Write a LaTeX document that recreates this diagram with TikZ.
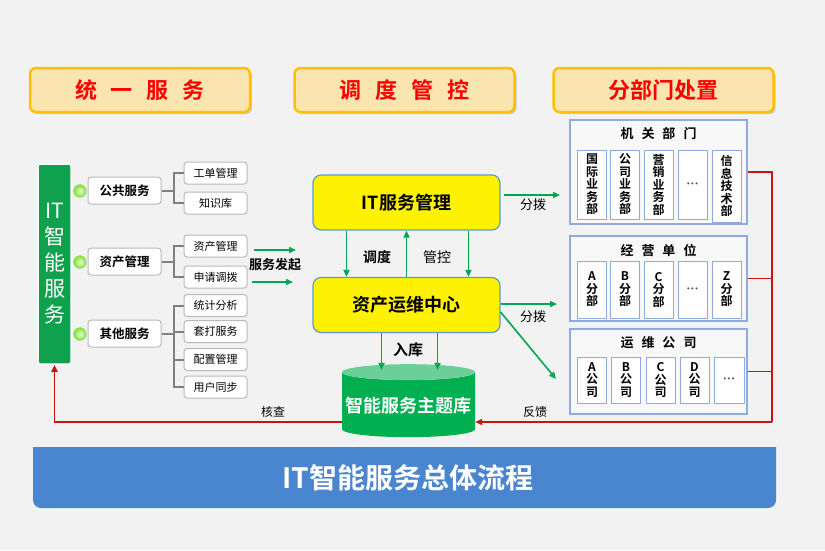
\documentclass[tikz,border=0pt]{standalone}
\usepackage{fontspec}
\setmainfont{Noto Sans CJK SC}[BoldFont={Noto Sans CJK SC Bold}]
\newfontfamily\symfont{DejaVu Sans}
\usetikzlibrary{arrows.meta,shapes.geometric,shadows}
\definecolor{bgray}{HTML}{F2F2F2}
\definecolor{hdrfill}{HTML}{FAE4B0}
\definecolor{hdrline}{HTML}{FFC000}
\definecolor{itgreen}{HTML}{0FA14E}
\definecolor{arrgreen}{HTML}{00A650}
\definecolor{ctrline}{HTML}{5B9BD5}
\definecolor{grpline}{HTML}{8FAADC}
\definecolor{redline}{HTML}{CC1111}
\definecolor{dbgreen}{HTML}{00B050}
\definecolor{dbtop}{HTML}{6CCF98}
\definecolor{banner}{HTML}{4A86CF}
\definecolor{dotgray}{HTML}{44546A}
\tikzset{
  hdr/.style={draw=hdrline,line width=2.5pt,fill=hdrfill,rounded corners=6pt,
    minimum width=220pt,minimum height=44pt,text=red,
    font=\fontsize{22}{22}\selectfont\bfseries,
    drop shadow={opacity=0.35,shadow xshift=2pt,shadow yshift=-2pt}},
  lvlone/.style={draw=gray!55,line width=1pt,fill=white,rounded corners=3pt,
    minimum width=73pt,minimum height=27pt,font=\fontsize{12.5}{13}\selectfont\bfseries},
  lvltwo/.style={draw=gray!55,line width=1pt,fill=white,rounded corners=3pt,
    minimum width=63pt,minimum height=22pt,font=\fontsize{11}{12}\selectfont},
  gball/.style={circle,inner sep=0pt,minimum size=13pt,draw=green!40!gray!50,
    inner color=green!10!white,outer color=green!50!yellow!75!gray},
  tree/.style={draw=gray,line width=2pt},
  ctr/.style={draw=ctrline,line width=1.2pt,fill=yellow,rounded corners=8pt,
    minimum width=187pt,minimum height=55pt,font=\fontsize{18}{18}\selectfont\bfseries},
  garr/.style={draw=arrgreen,line width=1.6pt,-{Triangle[length=7pt,width=6pt]}},
  redl/.style={draw=redline,line width=1.6pt},
  grp/.style={draw=grpline,line width=1.6pt,fill=bgray!50!white},
  grptitle/.style={font=\fontsize{13}{13}\selectfont\bfseries},
  sub/.style={draw=grpline,line width=1pt,fill=white,inner sep=0pt,minimum width=29pt,
    align=center,font=\fontsize{12}{12.5}\selectfont\bfseries},
  dots/.style={sub,font=\fontsize{7}{7}\selectfont\symfont,text=dotgray},
  lbl/.style={font=\fontsize{13}{13}\selectfont},
}
\begin{document}
\begin{tikzpicture}[x=1pt,y=-1pt]
\fill[bgray] (0,0) rectangle (825,550);
% headers
\node[hdr] (h1) at (140,90) {统\hspace{14pt}一\hspace{14pt}服\hspace{14pt}务};
\node[hdr] (h2) at (404.5,90) {调\hspace{14pt}度\hspace{14pt}管\hspace{14pt}控};
\node[hdr] (h3) at (663.5,90) {分部门处置};
% left tree
\node[fill=itgreen,draw=white,line width=1.5pt,rounded corners=2pt,minimum width=33pt,
  minimum height=200pt,text=white,align=center,font=\fontsize{21}{26}\selectfont]
  (itbar) at (54.5,264) {IT\\智\\能\\服\\务};
\node[gball] (b1) at (80,191) {};
\node[gball] (b2) at (80,262) {};
\node[gball] (b3) at (80,334) {};
\node[lvlone] (pub) at (124.5,190.5) {公共服务};
\node[lvlone] (ast) at (124.5,261.5) {资产管理};
\node[lvlone] (oth) at (124.5,333.5) {其他服务};
\node[lvltwo] (pub1) at (215.5,173) {工单管理};
\node[lvltwo] (pub2) at (215.5,203) {知识库};
\node[lvltwo] (ast1) at (215.5,246) {资产管理};
\node[lvltwo] (ast2) at (215.5,277) {申请调拨};
\node[lvltwo] (oth1) at (215.5,305.5) {统计分析};
\node[lvltwo] (oth2) at (215.5,331.5) {套打服务};
\node[lvltwo] (oth3) at (215.5,359.5) {配置管理};
\node[lvltwo] (oth4) at (215.5,387) {用户同步};
\draw[tree] (pub.east) -- ++(12,0) |- (pub1.west);
\draw[tree] (pub.east) -- ++(12,0) |- (pub2.west);
\draw[tree] (ast.east) -- ++(12,0) |- (ast1.west);
\draw[tree] (ast.east) -- ++(12,0) |- (ast2.west);
\draw[tree] (oth.east) -- ++(12,0) |- (oth1.west);
\draw[tree] (oth.east) -- ++(12,0) |- (oth2.west);
\draw[tree] (oth.east) -- ++(12,0) |- (oth3.west);
\draw[tree] (oth.east) -- ++(12,0) |- (oth4.west);
% service start
\coordinate (s1a) at (254,250); \coordinate (s1b) at (296,250);
\coordinate (s2a) at (252,282); \coordinate (s2b) at (293,282);
\draw[garr] (s1a) -- (s1b);
\draw[garr] (s2a) -- (s2b);
\node[lbl,font=\fontsize{13}{13}\selectfont\bfseries] (start) at (275,265) {服务发起};
% center
\node[ctr] (itsm) at (406.5,202.5) {IT服务管理};
\node[ctr] (asset) at (406.5,305) {资产运维中心};
\draw[garr] ([xshift=-60pt]itsm.south) -- ([xshift=-60pt]asset.north);
\draw[garr] (asset.north) -- (itsm.south);
\draw[garr] ([xshift=62pt]itsm.south) -- ([xshift=62pt]asset.north);
\node[lbl,font=\fontsize{14}{14}\selectfont\bfseries] (disp) at (377,257) {调度};
\node[lbl,font=\fontsize{14}{14}\selectfont] (ctrl) at (437,257) {管控};
\node[cylinder,shape border rotate=90,aspect=0.12,minimum width=133pt,minimum height=73pt,
  cylinder uses custom fill,cylinder body fill=dbgreen,cylinder end fill=dbtop,
  text=white,font=\fontsize{18}{18}\selectfont\bfseries] (db) at (408.5,406) {智能服务主题库};
\draw[garr] ([xshift=-25pt]asset.south) -- ([xshift=-25pt,yshift=-6pt]asset.south |- db.north);
\draw[garr] ([xshift=31pt]asset.south) -- ([xshift=31pt,yshift=-6pt]asset.south |- db.north);
\node[lbl,font=\fontsize{15}{15}\selectfont\bfseries] (store) at (408,350) {入库};
% departments
\node[grp,minimum width=177pt,minimum height=104pt] (g1) at (658.5,172) {};
\node[grp,minimum width=177pt,minimum height=85pt] (g2) at (658.5,278.5) {};
\node[grp,minimum width=177pt,minimum height=85pt] (g3) at (658.5,371.5) {};
\node[grptitle] (t1) at (658.5,134) {机\hspace{8pt}关\hspace{8pt}部\hspace{8pt}门};
\node[grptitle] (t2) at (658.5,250) {经\hspace{8pt}营\hspace{8pt}单\hspace{8pt}位};
\node[grptitle] (t3) at (658.5,343) {运\hspace{8pt}维\hspace{8pt}公\hspace{8pt}司};
\node[sub,minimum height=69pt] (d11) at (592,184.5) {国\\际\\业\\务\\部};
\node[sub,minimum height=69pt] (d12) at (625,184.5) {公\\司\\业\\务\\部};
\node[sub,minimum height=69pt] (d13) at (658.5,184.5) {营\\销\\业\\务\\部};
\node[dots,minimum height=69pt] (d14) at (692.5,184.5) {•••};
\node[sub,minimum height=72pt] (d15) at (726.5,186) {信\\息\\技\\术\\部};
\node[sub,minimum height=57pt] (d21) at (592,289.5) {A\\分\\部};
\node[sub,minimum height=57pt] (d22) at (625,289.5) {B\\分\\部};
\node[sub,minimum height=57pt] (d23) at (658.5,289.5) {C\\分\\部};
\node[dots,minimum height=57pt] (d24) at (692.5,289.5) {•••};
\node[sub,minimum height=57pt] (d25) at (726.5,289.5) {Z\\分\\部};
\node[sub,minimum height=46pt] (d31) at (592,380) {A\\公\\司};
\node[sub,minimum height=46pt] (d32) at (626,380) {B\\公\\司};
\node[sub,minimum height=46pt] (d33) at (660.5,380) {C\\公\\司};
\node[sub,minimum height=46pt] (d34) at (694.5,380) {D\\公\\司};
\node[dots,minimum height=46pt,minimum width=30pt] (d35) at (729,380) {•••};
% dispatch
\coordinate (f1) at (560,195);
\coordinate (f2) at (557,304);
\coordinate (f3) at (556,379);
\draw[garr,shorten <=3pt] (itsm.east |- f1) -- (f1);
\draw[garr] (asset.east |- f2) -- (f2);
\draw[garr] ([yshift=-7pt]asset.east) -- (f3);
\node[lbl] (fb1) at (533,205) {分拨};
\node[lbl] (fb2) at (533,317) {分拨};
% feedback loop
\coordinate (rb) at (772,422);
\coordinate (lb) at (54.5,422);
\draw[redl] (g1.east) -| (rb);
\draw[redl] (g2.east) -- (g2.east -| rb);
\draw[redl] (g3.east) -- (g3.east -| rb);
\draw[redl,-{Triangle[length=7pt,width=6pt]}] (rb) -- (db.east |- rb);
\draw[redl,-{Triangle[length=7pt,width=6pt]}] (db.west |- lb) -- (lb) -- (itbar.south);
\node[lbl,font=\fontsize{12}{12}\selectfont] (chk) at (273,412) {核查};
\node[lbl,font=\fontsize{12}{12}\selectfont] (fbk) at (535,412) {反馈};
% banner
\fill[banner] (33,447) -- (776,447) {[rounded corners=8pt] -- (776,508) -- (33,508)} -- cycle;
\node[text=white,font=\fontsize{28}{28}\selectfont\bfseries] (title) at (408,477.5) {IT智能服务总体流程};
\end{tikzpicture}
\end{document}
